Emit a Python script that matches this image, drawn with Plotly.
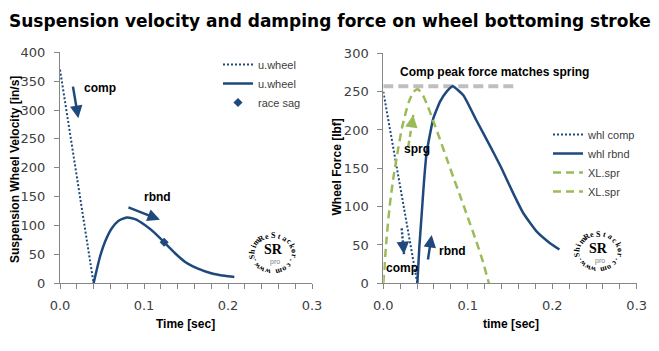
import math
import plotly.graph_objects as go

W, H = 659, 351

# ---------------- data ----------------
# Left chart: suspension wheel velocity [in/s] vs time [sec]
t_comp_L = [0.0, 0.040]
v_comp_L = [370, 0]
t_rbnd_L = [0.040, 0.0476, 0.0536, 0.0615, 0.0694, 0.0794, 0.0893, 0.101, 0.113,
            0.124, 0.137, 0.149, 0.165, 0.181, 0.196, 0.2075]
v_rbnd_L = [0, 46, 72, 95, 108, 114, 111, 101, 87, 71, 52, 37, 25, 17, 13, 11]
t_sag = [0.124]
v_sag = [71]

# Right chart: wheel force [lbf] vs time [sec]
t_comp_R = [0.0, 0.0403]
f_comp_R = [250, 0]
t_rbnd_R = [0.0403, 0.0427, 0.0455, 0.0482, 0.0514, 0.0533, 0.0592, 0.0672, 0.075,
            0.0822, 0.095, 0.110, 0.126, 0.140, 0.154, 0.166, 0.182, 0.1955, 0.2085]
f_rbnd_R = [0, 48, 91, 133, 172, 183, 215, 237, 250, 257, 245, 213, 180, 150, 117,
            91, 67, 54, 44]
t_spr = [0.0, 0.004, 0.008, 0.012, 0.016, 0.022, 0.030, 0.036, 0.041, 0.047, 0.053,
         0.059, 0.067, 0.075, 0.083, 0.090, 0.100, 0.110, 0.118, 0.125]
f_spr = [0, 60, 105, 138, 165, 202, 236, 250, 253, 245, 230, 212, 188, 163, 138,
         117, 86, 55, 28, 0]
t_peak = [0.0, 0.156]
f_peak = [257, 257]

x_ticks = [0.0, 0.1, 0.2, 0.3]

BLUE = "#1F497D"
GREEN = "#9BBB59"
GRAY = "#BFBFBF"
AX = "#868686"
TXT = "#404040"

fig = go.Figure()

# left traces
fig.add_trace(go.Scatter(x=t_comp_L, y=v_comp_L, mode="lines", name="u.wheel",
                         line=dict(color=BLUE, width=2, dash="2px,2px"),
                         xaxis="x", yaxis="y", legend="legend"))
fig.add_trace(go.Scatter(x=t_rbnd_L, y=v_rbnd_L, mode="lines", name="u.wheel",
                         line=dict(color=BLUE, width=2.5, shape="spline", smoothing=0.6),
                         xaxis="x", yaxis="y", legend="legend"))
fig.add_trace(go.Scatter(x=t_sag, y=v_sag, mode="markers", name="race sag",
                         marker=dict(color=BLUE, size=7, symbol="diamond"),
                         xaxis="x", yaxis="y", legend="legend"))

# right traces
fig.add_trace(go.Scatter(x=t_peak, y=f_peak, mode="lines", showlegend=False,
                         line=dict(color=GRAY, width=4, dash="10px,5px"),
                         xaxis="x2", yaxis="y2"))
fig.add_trace(go.Scatter(x=t_comp_R, y=f_comp_R, mode="lines", name="whl comp",
                         line=dict(color=BLUE, width=2, dash="2px,2px"),
                         xaxis="x2", yaxis="y2", legend="legend2"))
fig.add_trace(go.Scatter(x=t_rbnd_R, y=f_rbnd_R, mode="lines", name="whl rbnd",
                         line=dict(color=BLUE, width=2.5, shape="spline", smoothing=0.4),
                         xaxis="x2", yaxis="y2", legend="legend2"))
fig.add_trace(go.Scatter(x=t_spr, y=f_spr, mode="lines", name="XL.spr",
                         line=dict(color=GREEN, width=2.5, dash="8px,5px",
                                   shape="spline", smoothing=0.6),
                         xaxis="x2", yaxis="y2", legend="legend2"))
fig.add_trace(go.Scatter(x=[None], y=[None], mode="lines", name="XL.spr",
                         line=dict(color=GREEN, width=2.5, dash="8px,5px"),
                         xaxis="x2", yaxis="y2", legend="legend2"))

# ---------------- axes ----------------
tickfont = dict(family="DejaVu Sans", size=13, color=TXT)
common = dict(showline=True, linecolor=AX, linewidth=1, ticks="outside", tickcolor=AX,
              ticklen=5, showgrid=False, zeroline=False, tickfont=tickfont)
xcommon = dict(common, range=[0, 0.3], tickvals=x_ticks, tickformat=".1f",
               ticklabelstandoff=5,
               minor=dict(dtick=0.02, ticks="outside", ticklen=5, tickcolor=AX, showgrid=False))

yb = 1 - 283.3 / H
legfont = dict(family="Liberation Sans", size=11, color=TXT)
fig.update_layout(
    xaxis=dict(xcommon, domain=[60 / W, 312 / W], anchor="y"),
    yaxis=dict(common, domain=[yb, 1 - 52.3 / H], range=[0, 400], dtick=50,
               anchor="x", ticklabelstandoff=6),
    xaxis2=dict(xcommon, domain=[383.3 / W, 636.7 / W], anchor="y2"),
    yaxis2=dict(common, domain=[yb, 1 - 53.3 / H], range=[0, 300], dtick=50,
                anchor="x2", ticklabelstandoff=6),
    width=W, height=H, margin=dict(l=0, r=0, t=0, b=0, pad=0, autoexpand=False),
    paper_bgcolor="white", plot_bgcolor="white",
    legend=dict(x=218 / W, y=1 - 50 / H, xanchor="left", yanchor="top",
                bgcolor="rgba(0,0,0,0)", font=legfont, itemwidth=30, tracegroupgap=0),
    legend2=dict(x=548 / W, y=1 - 120 / H, xanchor="left", yanchor="top",
                 bgcolor="rgba(0,0,0,0)", font=legfont, itemwidth=30, tracegroupgap=0),
)

ann = []
bold = dict(family="Liberation Sans", size=12, color="black")

def text(x, y, s, xref="paper", yref="paper", **kw):
    d = dict(x=x, y=y, xref=xref, yref=yref, text=s, showarrow=False, font=bold,
             xanchor="center", yanchor="middle")
    d.update(kw)
    ann.append(d)

# title and axis titles
text(0.5, 1 - 21 / H, "<b>Suspension velocity and damping force on wheel bottoming stroke</b>",
     font=dict(family="DejaVu Sans", size=17, color="black"))
text(15 / W, 1 - 170 / H, "<b>Suspension Wheel Velocity [in/s]</b>", textangle=-90)
text(337 / W, 1 - 167.5 / H, "<b>Wheel Force [lbf]</b>", textangle=-90)
text(185 / W, 1 - 324 / H, "<b>Time [sec]</b>")
text(510.5 / W, 1 - 324 / H, "<b>time [sec]</b>")

# left annotations
text(0.0262, 338, "<b>comp</b>", "x", "y", xanchor="left")
text(0.116, 149, "<b>rbnd</b>", "x", "y")
# right annotations
text(0.0174, 276, "<b>Comp peak force matches spring</b>", "x2", "y2", xanchor="left")
text(0.0218, 175, "<b>sprg</b>", "x2", "y2", xanchor="left")
text(0.0008, 20, "<b>comp</b>", "x2", "y2", xanchor="left")
text(0.0636, 42, "<b>rbnd</b>", "x2", "y2", xanchor="left")

def arrow(x, y, ax, ay, xref, yref, color, width=2.5):
    ann.append(dict(x=x, y=y, xref=xref, yref=yref, ax=ax, ay=ay, axref="pixel", ayref="pixel",
                    showarrow=True, arrowhead=2, arrowsize=1, arrowwidth=width,
                    arrowcolor=color, text=""))

arrow(0.0218, 286, -5.6, -33, "x", "y", BLUE)
arrow(0.119, 110, -33, -13, "x", "y", BLUE)
arrow(0.0573, 63, -4, 26, "x2", "y2", BLUE)

# dashed / dotted arrows: shaft as shape, head as short annotation
shapes = []
def styled_arrow(x, y, ax, ay, xref, yref, color, dash):
    if xref == "x2":
        sx, sy = 0.3 / 253.4, 300 / 230.0
    else:
        sx, sy = 0.3 / 252.0, 400 / 231.0
    x0, y0 = x + ax * sx, y - ay * sy
    shapes.append(dict(type="line", xref=xref, yref=yref, x0=x0, y0=y0, x1=x, y1=y,
                       line=dict(color=color, width=2.5, dash=dash)))
    L = (ax ** 2 + ay ** 2) ** 0.5
    arrow(x, y, ax / L * 8, ay / L * 8, xref, yref, color)

styled_arrow(0.0355, 219.5, -5, 31.7, "x2", "y2", GREEN, "6px,4px")
styled_arrow(0.0245, 38, -2.3, -25.7, "x2", "y2", BLUE, "2px,2px")

# logos (circular text watermark)
logo_text = "www.ShimReStackor.com"
for (cx, cy) in [(273, 253.5), (598.5, 252)]:
    for i, ch in enumerate(logo_text):
        th = 195 + i * 16.5
        r = math.radians(th)
        ann.append(dict(x=cx / W, y=1 - cy / H, xref="paper", yref="paper", text=ch,
                        showarrow=False, xanchor="center", yanchor="middle",
                        xshift=21.5 * math.sin(r), yshift=18 * math.cos(r),
                        textangle=th % 360,
                        font=dict(family="Liberation Serif", size=8, color="black",
                                  weight="bold")))
    ann.append(dict(x=cx / W, y=1 - (cy - 4) / H, xref="paper", yref="paper", text="<b>SR</b>",
                    showarrow=False, xanchor="center", yanchor="middle",
                    font=dict(family="Liberation Serif", size=14, color="black")))
    ann.append(dict(x=(cx + 1.5) / W, y=1 - (cy + 8.5) / H, xref="paper", yref="paper",
                    text="pro", showarrow=False, xanchor="center", yanchor="middle",
                    font=dict(family="Liberation Sans", size=7, color="#7F7F7F")))

fig.update_layout(annotations=ann, shapes=shapes)
fig.write_html("out.html")
